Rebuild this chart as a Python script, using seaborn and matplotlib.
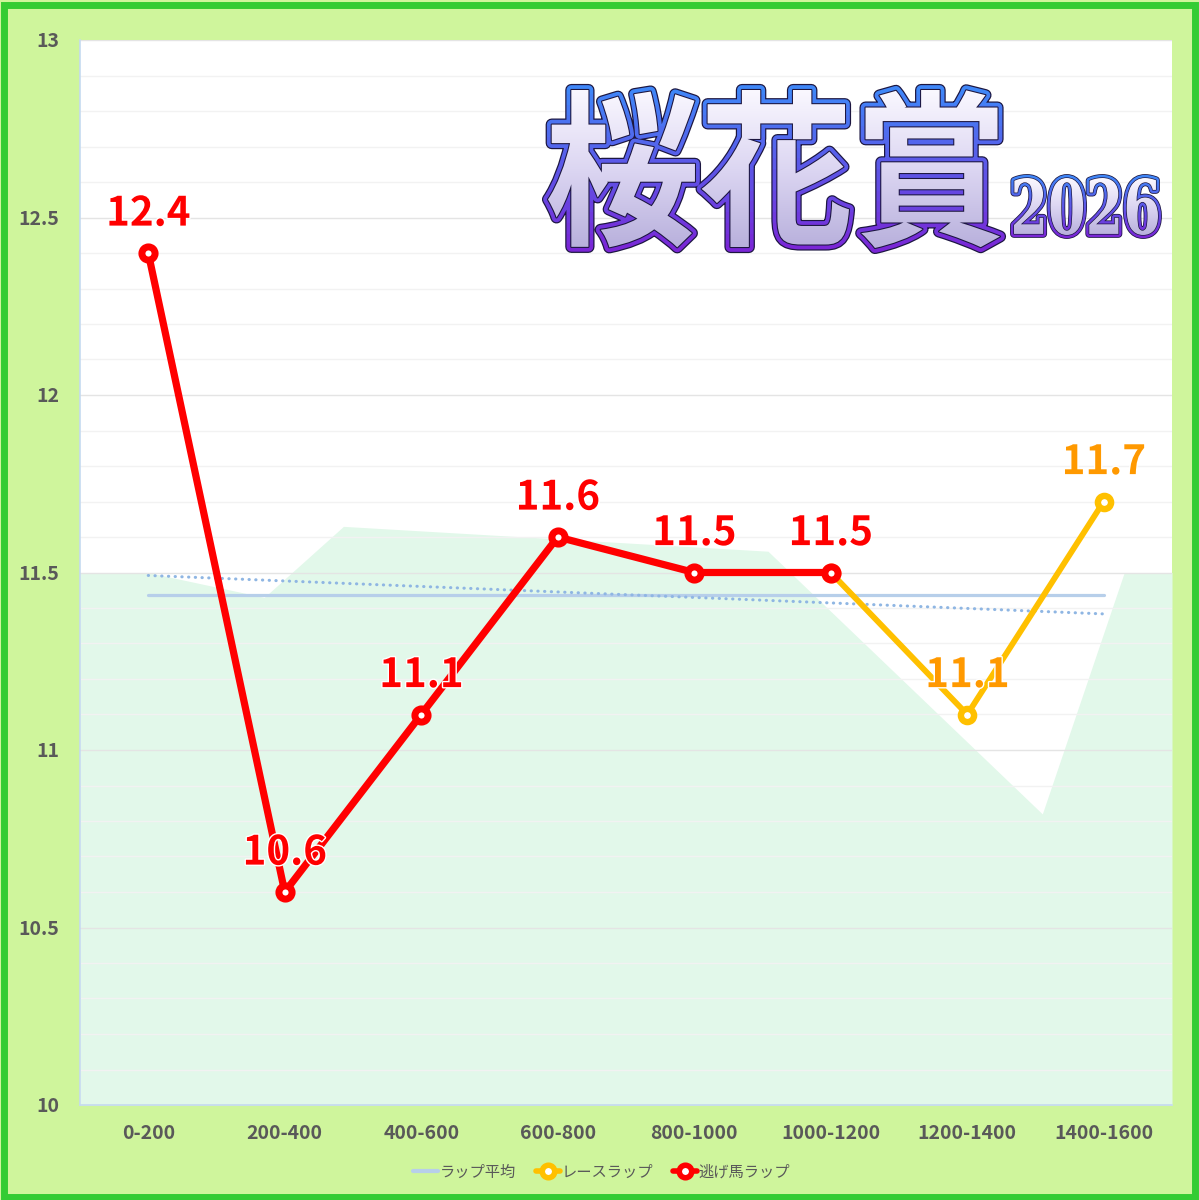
import numpy as np
import pandas as pd
import matplotlib
matplotlib.use('Agg')
import matplotlib.pyplot as plt
import seaborn as sns
from matplotlib import patheffects as pe
from matplotlib.lines import Line2D
from matplotlib.patches import PathPatch, Rectangle
from matplotlib.textpath import TextPath
from matplotlib.font_manager import FontProperties
from matplotlib.transforms import Affine2D
from matplotlib.colors import LinearSegmentedColormap, to_rgb
from matplotlib.ticker import MultipleLocator, FormatStrFormatter

# data
categories = ['0-200', '200-400', '400-600', '600-800', '800-1000',
              '1000-1200', '1200-1400', '1400-1600']
race_lap = [12.4, 10.6, 11.1, 11.6, 11.5, 11.5, 11.1, 11.7]
nige_lap = [12.4, 10.6, 11.1, 11.6, 11.5, 11.5]
# background area series (secondary shape behind the lines)
area_x = [-0.5, 0.0, 0.85, 1.43, 4.54, 6.55, 7.15, 7.5]
area_y = [11.5, 11.5, 11.43, 11.63, 11.56, 10.82, 11.5, 11.5]

title_main = '桜花賞'
title_year = '2026'

BG = '#cff59c'
GREY = '#595959'
RED = '#ff0000'
ORANGE = '#ffc000'
ORANGE_TXT = '#ff9900'
AVG = '#b7cfea'
TREND = '#8fb6e3'

sns.set_style("white")
plt.rcParams['font.family'] = ['Noto Sans CJK JP', 'DejaVu Sans']

fig = plt.figure(figsize=(11.99, 12), dpi=100, facecolor=BG)
ax = fig.add_axes([80 / 1199, 1 - 1105 / 1200, 1092 / 1199, 1065 / 1200])
ax.set_facecolor('white')

x = np.arange(len(categories))
df = pd.DataFrame({'x': x, 'race': race_lap})

# area
ax.fill_between(area_x, 10, area_y, color='#e2f8ea', lw=0, zorder=0.3)

# average and trend
avg = np.mean(race_lap)
ax.plot([0, len(categories) - 1], [avg, avg], color=AVG, lw=2.3,
        solid_capstyle='round', zorder=2)
k, b = np.polyfit(x, race_lap, 1)
ax.plot([0, len(categories) - 1], [b, b + k * (len(categories) - 1)],
        color=TREND, lw=2.2, linestyle=(0, (0.1, 2.1)),
        dash_capstyle='round', zorder=2)

# race lap (orange) and nige lap (red)
sns.lineplot(data=df.iloc[5:], x='x', y='race', ax=ax, color=ORANGE, lw=4.2,
             marker='o', markersize=9.5, markeredgewidth=4.6,
             markerfacecolor='white', markeredgecolor=ORANGE, zorder=3)
sns.lineplot(x=x[:len(nige_lap)], y=nige_lap, ax=ax, color=RED, lw=5.2,
             marker='o', markersize=9.5, markeredgewidth=5,
             markerfacecolor='white', markeredgecolor=RED, zorder=4)

stroke = [pe.withStroke(linewidth=2, foreground='white')]
for i, v in enumerate(race_lap):
    col = RED if i < len(nige_lap) else ORANGE_TXT
    ax.annotate(f'{v:.1f}', (i, v), xytext=(0, 28), textcoords='offset points',
                ha='center', va='center', fontsize=29, fontweight='bold',
                color=col, path_effects=stroke, zorder=5)

ax.set_xlim(-0.5, 7.5)
ax.set_ylim(10, 13)
ax.set_xticks(x)
ax.set_xticklabels(categories)
ax.yaxis.set_major_locator(MultipleLocator(0.5))
ax.yaxis.set_minor_locator(MultipleLocator(0.1))
ax.yaxis.set_major_formatter(FormatStrFormatter('%g'))
ax.set_axisbelow(True)
ax.grid(axis='y', which='major', color='#e4e4e4', lw=1)
ax.grid(axis='y', which='minor', color='#f2f2f2', lw=1)
ax.tick_params(axis='both', which='both', length=0, colors=GREY, labelsize=14)
ax.tick_params(axis='y', pad=15)
ax.tick_params(axis='x', pad=14)
for lab in ax.get_xticklabels() + ax.get_yticklabels():
    lab.set_fontweight('bold')
ax.set_xlabel('')
ax.set_ylabel('')
for s in ['top', 'right']:
    ax.spines[s].set_visible(False)
for s in ['left', 'bottom']:
    ax.spines[s].set_color('#c5daf0')
    ax.spines[s].set_linewidth(1.2)

# legend
handles = [
    Line2D([], [], color=AVG, lw=3),
    Line2D([], [], color=ORANGE, lw=4, marker='o', markersize=9,
           markerfacecolor='white', markeredgecolor=ORANGE, markeredgewidth=4),
    Line2D([], [], color=RED, lw=4, marker='o', markersize=9,
           markerfacecolor='white', markeredgecolor=RED, markeredgewidth=4),
]
fig.legend(handles, ['ラップ平均', 'レースラップ', '逃げ馬ラップ'],
           loc='center', bbox_to_anchor=(0.502, 1 - 1172 / 1200), ncol=3,
           frameon=False, fontsize=11, labelcolor=GREY, handlelength=1.6,
           handletextpad=0.1, columnspacing=1.3)

# title overlay in pixel coords
ov = fig.add_axes([0, 0, 1, 1], zorder=6)
ov.axis('off')


def fit_path(text, prop, x0, y0, x1, y1):
    tp = TextPath((0, 0), text, size=100, prop=prop)
    ext = tp.get_extents()
    sx = (x1 - x0) / ext.width
    sy = (y1 - y0) / ext.height
    tr = Affine2D().translate(-ext.x0, -ext.y1).scale(sx, -sy).translate(x0, y0)
    return tr.transform_path(tp)


def fancy_text(path, x0, y0, x1, y1, w):
    ov.add_patch(PathPatch(path, facecolor='none', edgecolor='#1c1640',
                           lw=w * 1.25, joinstyle='round', zorder=1))
    c_top, c_bot = np.array(to_rgb('#3f86f7')), np.array(to_rgb('#7a26d6'))
    n = 16
    pad = w
    edges = np.linspace(y0 - pad, y1 + pad, n + 1)
    for j in range(n):
        t = j / (n - 1)
        p = PathPatch(path, facecolor='none', edgecolor=c_top * (1 - t) + c_bot * t,
                      lw=w, joinstyle='round', zorder=2)
        ov.add_patch(p)
        clip = Rectangle((x0 - 20, edges[j]), x1 - x0 + 40, edges[j + 1] - edges[j],
                         transform=ov.transData, visible=False)
        ov.add_patch(clip)
        p.set_clip_path(clip)
    ov.add_patch(PathPatch(path, facecolor='none', edgecolor='#1c1640',
                           lw=w * 0.22, joinstyle='round', zorder=3))
    grad = np.linspace(0, 1, 256).reshape(-1, 1)
    cmap = LinearSegmentedColormap.from_list('g', ['#faf8ff', '#dcd6f2', '#b8b0dc'])
    im = ov.imshow(grad, cmap=cmap, extent=[x0, x1, y1, y0], origin='upper',
                   aspect='auto', zorder=4)
    im.set_clip_path(PathPatch(path, transform=ov.transData))


fp_jp = FontProperties(family='Noto Sans CJK JP', weight='bold')
fp_num = FontProperties(family='DejaVu Serif', weight='bold')
p1 = fit_path(title_main, fp_jp, 548, 90, 1000, 248)
fancy_text(p1, 548, 90, 1000, 248, 7)
p2 = fit_path(title_year, fp_num, 1014, 178, 1158, 235)
fancy_text(p2, 1014, 178, 1158, 235, 4.5)

ov.set_xlim(0, 1199)
ov.set_ylim(1200, 0)

# outer border
fig.patches.append(Rectangle((3.5 / 1199, 3.5 / 1200), 1 - 8 / 1199, 1 - 8 / 1200,
                             transform=fig.transFigure, facecolor='none',
                             edgecolor='#33cc33', lw=5, zorder=10))

fig.savefig('out.png', dpi=100, facecolor=BG)
